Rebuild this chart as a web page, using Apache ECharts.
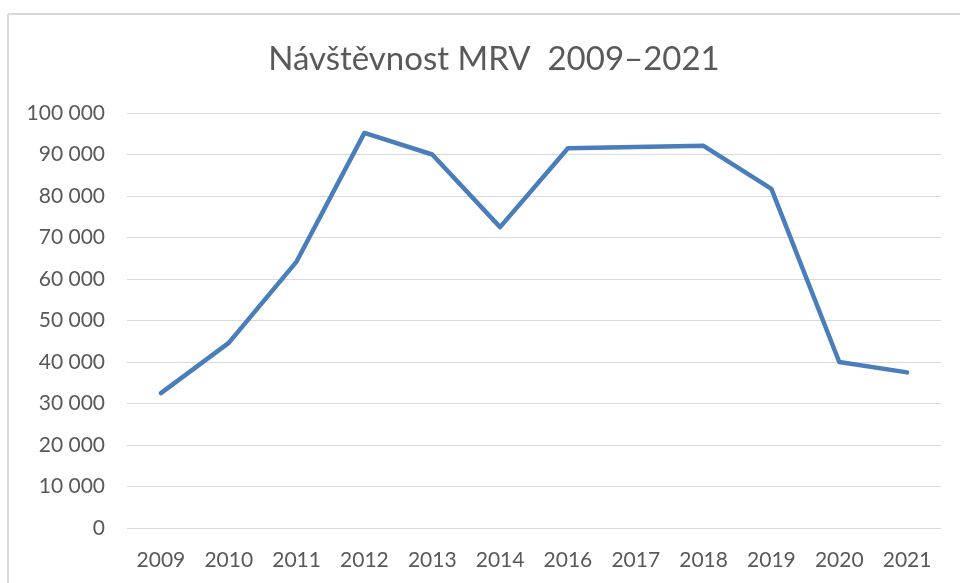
<!DOCTYPE html>
<html>
<head>
<meta charset="utf-8">
<style>
  html, body { margin: 0; padding: 0; background: #fff; }
  #chart { width: 960px; height: 583px; }
</style>
<script src="https://cdn.jsdelivr.net/npm/echarts@6/dist/echarts.min.js"></script>
</head>
<body>
<div id="chart"></div>
<script>
// Visitor counts per year (2015 is not recorded)
const years = ['2009', '2010', '2011', '2012', '2013', '2014', '2016', '2017', '2018', '2019', '2020', '2021'];
const visitors = [32500, 44600, 64200, 95200, 90000, 72500, 91500, 91800, 92100, 81700, 40000, 37500];
const yTicks = [0, 10000, 20000, 30000, 40000, 50000, 60000, 70000, 80000, 90000, 100000];

const FONT = 'Lato, "Open Sans", sans-serif';
const TEXT = '#595959';

function formatThousands(v) {
  return String(v).replace(/\B(?=(\d{3})+(?!\d))/g, ' ');
}

const chart = echarts.init(document.getElementById('chart'), null, { renderer: 'canvas' });
chart.setOption({
  animation: false,
  backgroundColor: '#ffffff',
  title: {
    text: 'Návštěvnost MRV  2009–2021',
    left: 489,
    textAlign: 'center',
    top: 38,
    textStyle: { fontFamily: FONT, fontSize: 33, fontWeight: 'normal', color: TEXT }
  },
  graphic: [
    { type: 'line', shape: { x1: 8, y1: 14, x2: 960, y2: 14 }, style: { stroke: '#d9d9d9', lineWidth: 2 } },
    { type: 'line', shape: { x1: 8, y1: 14, x2: 8, y2: 583 }, style: { stroke: '#d9d9d9', lineWidth: 2 } }
  ],
  grid: { left: 127, right: 19, top: 113, bottom: 55, containLabel: false },
  xAxis: {
    type: 'category',
    data: years,
    boundaryGap: true,
    axisLine: { show: false },
    axisTick: { show: false },
    axisLabel: { fontFamily: FONT, fontSize: 21, color: TEXT, margin: 22 }
  },
  yAxis: {
    type: 'value',
    min: yTicks[0],
    max: yTicks[yTicks.length - 1],
    interval: yTicks[1] - yTicks[0],
    axisLine: { show: false },
    axisTick: { show: false },
    splitLine: { lineStyle: { color: '#d9d9d9', width: 1 } },
    axisLabel: { fontFamily: FONT, fontSize: 21, color: TEXT, margin: 22, formatter: formatThousands }
  },
  series: [{
    type: 'line',
    data: visitors,
    symbol: 'none',
    lineStyle: { color: '#4a7ebb', width: 4.5, join: 'round', cap: 'round' }
  }]
});
</script>
</body>
</html>
